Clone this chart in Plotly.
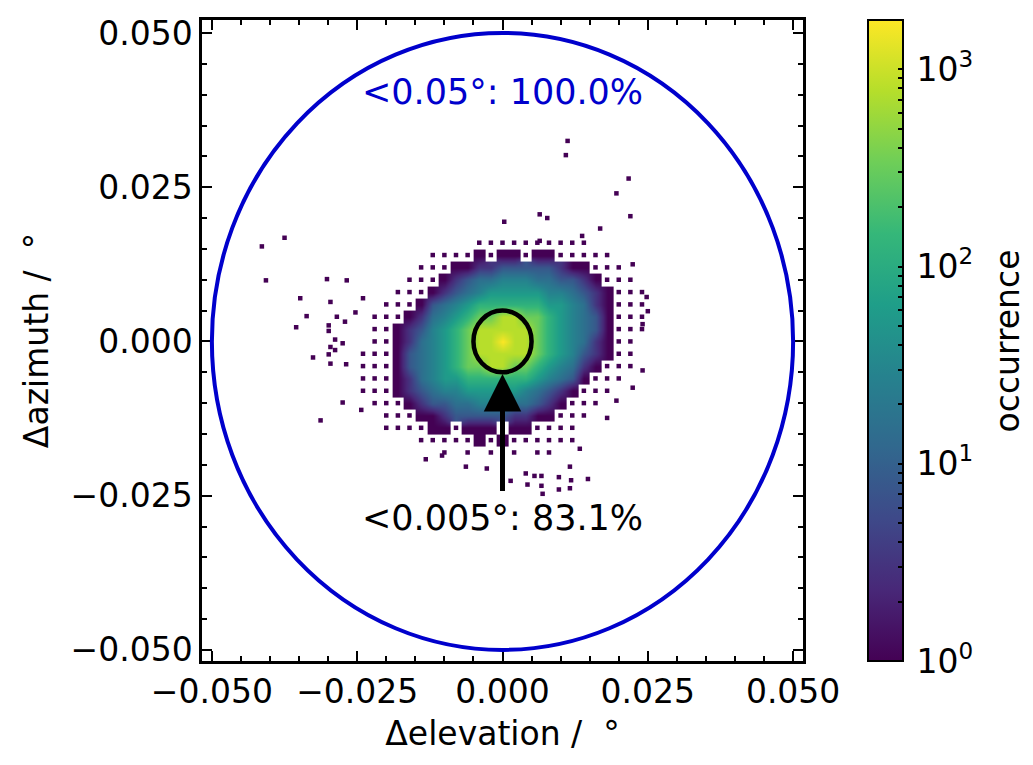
import plotly.graph_objects as go

# 2d histogram of pointing offsets, bins 0.002 deg wide
elev_bins = [-0.026, -0.024, -0.022, -0.020, -0.018, -0.016, -0.014, -0.012, -0.010,
             -0.008, -0.006, -0.004, -0.002, 0.000, 0.002, 0.004, 0.006, 0.008,
             0.010, 0.012, 0.014, 0.016, 0.018, 0.020, 0.022, 0.024, 0.026]
azim_bins = [0.016, 0.014, 0.012, 0.010, 0.008, 0.006, 0.004, 0.002, 0.000,
             -0.002, -0.004, -0.006, -0.008, -0.010, -0.012, -0.014, -0.016, -0.018]

# one char per bin: '.' empty, 's' sparse single hits, '1'..'a' log10 count level
hist_rows = [
    "...........ssssssssss......",
    ".......ssss1s11s11sssss....",
    "......sss112233333211sss...",
    ".....sss12344555443321sss..",
    "....sss1234566666554321sss.",
    "...sss13456777777665421sss.",
    "..sss124567889988765431sss.",
    "..ss1235678999998765431sss.",
    "..ss124567899a998765421ss..",
    ".sss1345678999998765321ss..",
    ".sss134567889988765421sss..",
    ".sss12456677777765431sss...",
    ".sss1234556666654321sss....",
    "..sss12334455544321sss.....",
    "...sss112333332211sss......",
    "...ssss11s111s11ssss.......",
    "......sssss1s1ssssss.......",
    "........s.s.s.s.ss.........",
]
level_log = {"1": 0.0, "2": 0.5, "3": 0.9, "4": 1.2, "5": 1.45,
             "6": 1.75, "7": 2.1, "8": 2.5, "9": 2.9, "a": 3.25}

# isolated single hits outside the main cloud
out_elev = [0.0112, 0.0109, 0.0217, 0.0196, 0.0064, 0.0077, 0.0003, 0.0220, 0.0168, 0.0137, 0.0064,
            -0.0375, -0.0414, -0.0407, -0.0302, -0.0268, -0.0348, -0.0296, -0.0240, -0.0337, -0.0285,
            -0.0355, -0.0299, -0.0299, -0.0271, -0.0253, -0.0288, -0.0275, -0.0296, -0.0288, -0.0299,
            -0.0326, -0.0296, -0.0269, -0.0275, -0.0313, -0.0243,
            0.0147, 0.0069, 0.0116, 0.0097, 0.0067, 0.0043, 0.0014, 0.0118, 0.0055, 0.0067, 0.0040,
            0.0097, -0.0063, -0.0027, -0.0132, -0.0104, 0.0116, 0.0133,
            0.0248, 0.0241, 0.0224, 0.0196, 0.0180, 0.0224, 0.0241, 0.0250]
out_azim = [0.0325, 0.0302, 0.0264, 0.0240, 0.0206, 0.0200, 0.0194, 0.0203, 0.0183, 0.0171, 0.0163,
            0.0168, 0.0154, 0.0099, 0.0101, 0.0099, 0.0070, 0.0064, 0.0070, 0.0041, 0.0040,
            0.0023, 0.0026, 0.0017, 0.0032, 0.0047, 0.0003, -0.0003, -0.0009, -0.0014, -0.0021,
            -0.0026, -0.0036, -0.0037, -0.0099, -0.0128, -0.0111,
            -0.0223, -0.0247, -0.0238, -0.0240, -0.0234, -0.0232, -0.0226, -0.0225, -0.0218, -0.0218, -0.0214,
            -0.0220, -0.0203, -0.0206, -0.0191, -0.0185, -0.0203, -0.0174,
            0.0072, -0.0047, -0.0075, -0.0096, -0.0124, 0.0125, 0.0028, 0.0049]

cb_major = [0, 1, 2, 3]
cb_labels = ["10<sup>0</sup>", "10<sup>1</sup>", "10<sup>2</sup>", "10<sup>3</sup>"]
cb_minor = [0.301, 0.477, 0.602, 0.699, 0.778, 0.845, 0.903, 0.954,
            1.301, 1.477, 1.602, 1.699, 1.778, 1.845, 1.903, 1.954,
            2.301, 2.477, 2.602, 2.699, 2.778, 2.845, 2.903, 2.954]

z_main = [[level_log.get(c) for c in row] for row in hist_rows]

# sparse bins are drawn as single-hit specks at the bin centre
sp_x, sp_y = [], []
for row, yc in zip(hist_rows, azim_bins):
    for c, xc in zip(row, elev_bins):
        if c == "s":
            sp_x.append(xc)
            sp_y.append(yc)

FONT = "DejaVu Sans"
FS = 33
DARK = "#440154"

fig = go.Figure()
fig.add_trace(go.Scatter(
    x=sp_x + out_elev, y=sp_y + out_azim, mode="markers",
    marker=dict(symbol="square", size=4.5, color=DARK, line=dict(width=0)),
    showlegend=False, hoverinfo="skip"))
fig.add_trace(go.Heatmap(
    x=elev_bins, y=azim_bins, z=z_main, colorscale="Viridis", zmin=0, zmax=3.25,
    zsmooth="best",
    colorbar=dict(
        x=1.108, xanchor="left", xpad=0, y=0.5, yanchor="middle", ypad=0,
        len=1, lenmode="fraction", thickness=35,
        outlinewidth=2, outlinecolor="black",
        tickmode="array", tickvals=cb_major + cb_minor,
        ticktext=["\u2006" + t for t in cb_labels] + [""] * len(cb_minor),
        ticks="inside", ticklen=6, tickwidth=1.5, tickcolor="black",
        tickfont=dict(family=FONT, size=FS, color="black"),
    )))

fig.add_shape(type="circle", xref="x", yref="y", x0=-0.05, x1=0.05, y0=-0.05, y1=0.05,
              line=dict(color="#0000cc", width=4))
fig.add_shape(type="circle", xref="x", yref="y", x0=-0.005, x1=0.005, y0=-0.005, y1=0.005,
              line=dict(color="black", width=4.5))

fig.add_annotation(x=0, y=-0.0053, ax=0, ay=-0.0245, xref="x", yref="y", axref="x", ayref="y",
                   text="", showarrow=True, arrowhead=2, arrowsize=1.5, arrowwidth=5,
                   arrowcolor="black")
fig.add_annotation(x=0, y=-0.0287, xref="x", yref="y", text="&lt;0.005°: 83.1%",
                   showarrow=False, font=dict(family=FONT, size=35, color="black"))
fig.add_annotation(x=0, y=0.0405, xref="x", yref="y", text="&lt;0.05°: 100.0%",
                   showarrow=False, font=dict(family=FONT, size=35, color="#0000cc"))
# colorbar label
fig.add_annotation(x=1.341, y=0.5, xref="paper", yref="paper", text="occurrence",
                   textangle=-90, showarrow=False, xanchor="center", yanchor="middle",
                   font=dict(family=FONT, size=FS, color="black"))

axis_style = dict(
    showline=True, linecolor="black", linewidth=2.5, mirror="allticks",
    ticks="inside", ticklen=10, tickwidth=2, tickcolor="black",
    minor=dict(ticks="inside", ticklen=5, tickwidth=1.5, dtick=0.005, tickcolor="black"),
    tickvals=[-0.05, -0.025, 0, 0.025, 0.05], tickformat=".3f",
    showgrid=False, zeroline=False, automargin=False,
    tickfont=dict(family=FONT, size=FS, color="black"),
)
fig.update_xaxes(range=[-0.0517, 0.0517],
                 title=dict(text="Δelevation / \u00a0°", standoff=12,
                            font=dict(family=FONT, size=FS, color="black")),
                 **axis_style)
fig.update_yaxes(range=[-0.0518, 0.0521],
                 title=dict(text="Δazimuth / \u00a0°", standoff=12,
                            font=dict(family=FONT, size=FS, color="black")),
                 **axis_style)

# the page adds an 8px body margin, so the margins are shifted to compensate
fig.update_layout(
    width=1033, height=765,
    margin=dict(l=194, r=238, t=12, b=112, autoexpand=False),
    plot_bgcolor="white", paper_bgcolor="white",
    showlegend=False,
    font=dict(family=FONT, size=FS, color="black"),
)

fig.write_html("out.html")
